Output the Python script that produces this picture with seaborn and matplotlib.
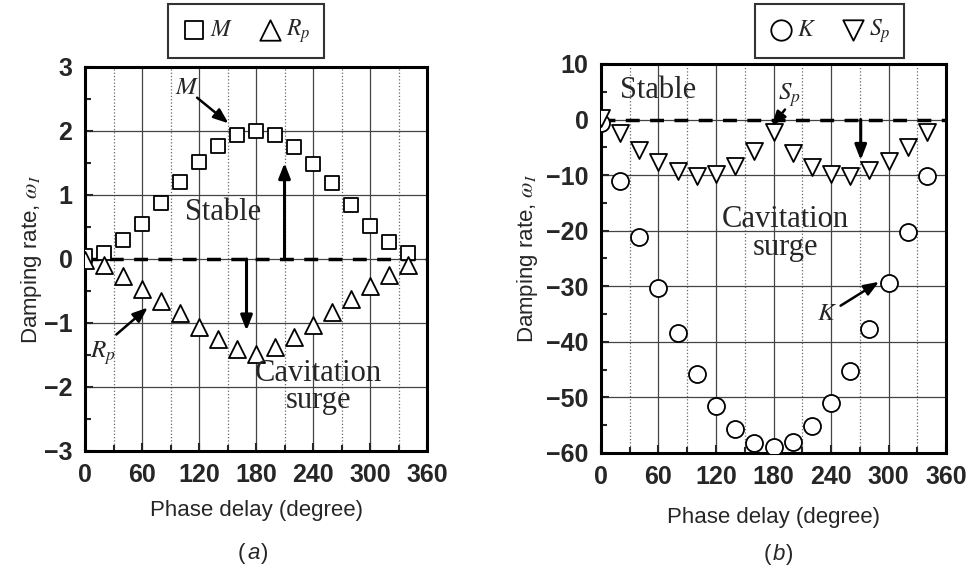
import numpy as np
import pandas as pd
import matplotlib
matplotlib.use('Agg')
import matplotlib.pyplot as plt
import seaborn as sns
from matplotlib.ticker import MultipleLocator

# --- DATA ---
phase = [0, 20, 40, 60, 80, 100, 120, 140, 160, 180, 200, 220, 240, 260, 280, 300, 320, 340]
m_rate = [0.05, 0.10, 0.29, 0.55, 0.87, 1.20, 1.51, 1.77, 1.94, 2.00, 1.93, 1.75, 1.49, 1.18, 0.84, 0.51, 0.26, 0.10]
rp_rate = [-0.02, -0.09, -0.26, -0.47, -0.65, -0.85, -1.07, -1.25, -1.40, -1.48, -1.37, -1.22, -1.03, -0.83, -0.63, -0.42, -0.25, -0.09]
k_rate = [-0.7, -11.0, -21.2, -30.4, -38.5, -45.8, -51.5, -55.6, -58.2, -58.9, -58.0, -55.2, -51.0, -45.2, -37.7, -29.5, -20.2, -10.1]
sp_rate = [0.3, -2.5, -5.5, -7.6, -9.2, -10.1, -9.8, -8.3, -5.6, -2.2, -6.0, -8.5, -9.8, -10.1, -9.1, -7.4, -5.0, -2.2]

df_a = pd.DataFrame({'phase': phase, 'M': m_rate, 'Rp': rp_rate})
df_b = pd.DataFrame({'phase': phase, 'K': k_rate, 'Sp': sp_rate})

sns.set_style('white')
plt.rcParams['font.family'] = ['Liberation Sans', 'DejaVu Sans']
plt.rcParams['mathtext.fontset'] = 'stix'

SERIF = 'Liberation Serif'
TICK_FS = 18
LABEL_FS = 16

fig = plt.figure(figsize=(9.67, 5.69), dpi=100)
ax_a = fig.add_axes([0.0879, 0.2074, 0.3537, 0.6749])
ax_b = fig.add_axes([0.6215, 0.2039, 0.3568, 0.6837])


def style_axes(ax, ylim, ymajor, yminor, ylab_x, xlab_y):
    ax.set_xlim(0, 360)
    ax.set_ylim(*ylim)
    ax.xaxis.set_major_locator(MultipleLocator(60))
    ax.xaxis.set_minor_locator(MultipleLocator(30))
    ax.yaxis.set_major_locator(MultipleLocator(ymajor))
    ax.yaxis.set_minor_locator(MultipleLocator(yminor))
    ax.grid(which='major', color='#444444', lw=0.9, ls='-')
    ax.grid(which='minor', axis='x', color='#666666', lw=0.9, ls=':')
    ax.set_axisbelow(True)
    for s in ax.spines.values():
        s.set_linewidth(2.2)
        s.set_color('black')
    ax.tick_params(which='both', direction='in', top=False, right=False,
                   left=True, bottom=True, width=1.5)
    ax.tick_params(which='major', length=6, labelsize=TICK_FS, pad=9)
    ax.tick_params(which='minor', length=4)
    for lab in ax.get_xticklabels() + ax.get_yticklabels():
        lab.set_fontweight('bold')
    ax.axhline(0, color='black', lw=2.5, ls=(0, (4, 3)), zorder=2)
    ax.set_xlabel('Phase delay (degree)', fontsize=LABEL_FS)
    ax.set_ylabel(r'Damping rate, $\omega_I$', fontsize=LABEL_FS)
    ax.yaxis.set_label_coords(ylab_x, 0.5)
    ax.xaxis.set_label_coords(0.5, xlab_y)


def arrow(ax, start, end, lw=2.2):
    ax.annotate('', xy=end, xytext=start,
                arrowprops=dict(arrowstyle='-|>,head_length=0.9,head_width=0.35',
                                color='black', lw=lw, shrinkA=0, shrinkB=0))


def legend(ax, anchor):
    leg = ax.legend(loc='lower center', bbox_to_anchor=anchor, ncol=2,
                    frameon=True, fancybox=False, edgecolor='black', fontsize=17,
                    handletextpad=0.15, columnspacing=1.0, borderpad=0.55,
                    borderaxespad=0, handlelength=1.1, markerscale=1.2)
    leg.get_frame().set_linewidth(1.5)


def sublabel(x, y, letter):
    fig.text(x - 0.008, y, '(', fontsize=16, ha='right', va='center')
    fig.text(x, y, letter, fontsize=16, ha='center', va='center', style='italic')
    fig.text(x + 0.008, y, ')', fontsize=16, ha='left', va='center')


# --- (a) ---
sns.scatterplot(data=df_a, x='phase', y='M', ax=ax_a, marker='s', s=110,
                facecolor='white', edgecolor='black', linewidth=1.3,
                label=r'$M$', zorder=3)
sns.scatterplot(data=df_a, x='phase', y='Rp', ax=ax_a, marker='^', s=150,
                facecolor='white', edgecolor='black', linewidth=1.3,
                label=r'$R_p$', zorder=3)
style_axes(ax_a, (-3, 3), 1, 0.5, -0.12, -0.128)
legend(ax_a, (0.47, 1.023))

arrow(ax_a, (210, 0), (210, 1.5))
arrow(ax_a, (170, 0), (170, -1.12))
ax_a.text(145, 0.72, 'Stable', family=SERIF, fontsize=22, ha='center', va='center')
ax_a.text(246, -2.0, 'Cavitation\nsurge', family=SERIF, fontsize=22,
          ha='center', va='center', linespacing=0.95)
ax_a.text(107, 2.68, r'$M$', fontsize=18, ha='center', va='center')
arrow(ax_a, (118, 2.52), (151, 2.12), lw=1.8)
ax_a.text(19, -1.47, r'$R_p$', fontsize=18, ha='center', va='center')
arrow(ax_a, (33, -1.18), (66, -0.76), lw=1.8)

# --- (b) ---
sns.scatterplot(data=df_b, x='phase', y='K', ax=ax_b, marker='o', s=150,
                facecolor='white', edgecolor='black', linewidth=1.3,
                label=r'$K$', zorder=3)
sns.scatterplot(data=df_b, x='phase', y='Sp', ax=ax_b, marker='v', s=150,
                facecolor='white', edgecolor='black', linewidth=1.3,
                label=r'$S_p$', zorder=3)
style_axes(ax_b, (-60, 10), 10, 5, -0.176, -0.139)
legend(ax_b, (0.662, 1.015))

arrow(ax_b, (123, 0), (123, 10.6))
arrow(ax_b, (271, 0), (271, -7.3))
ax_b.text(60, 5.3, 'Stable', family=SERIF, fontsize=22, ha='center', va='center')
ax_b.text(192, -20.5, 'Cavitation\nsurge', family=SERIF, fontsize=22,
          ha='center', va='center', linespacing=0.95)
ax_b.text(197, 4.4, r'$S_p$', fontsize=18, ha='center', va='center')
arrow(ax_b, (192, 1.8), (178, -1.2), lw=1.8)
ax_b.text(236, -34.8, r'$K$', fontsize=18, ha='center', va='center')
arrow(ax_b, (250, -33.5), (290, -29.2), lw=1.8)

sublabel(0.262, 0.028, 'a')
sublabel(0.805, 0.025, 'b')

fig.savefig('out.png', dpi=100)
